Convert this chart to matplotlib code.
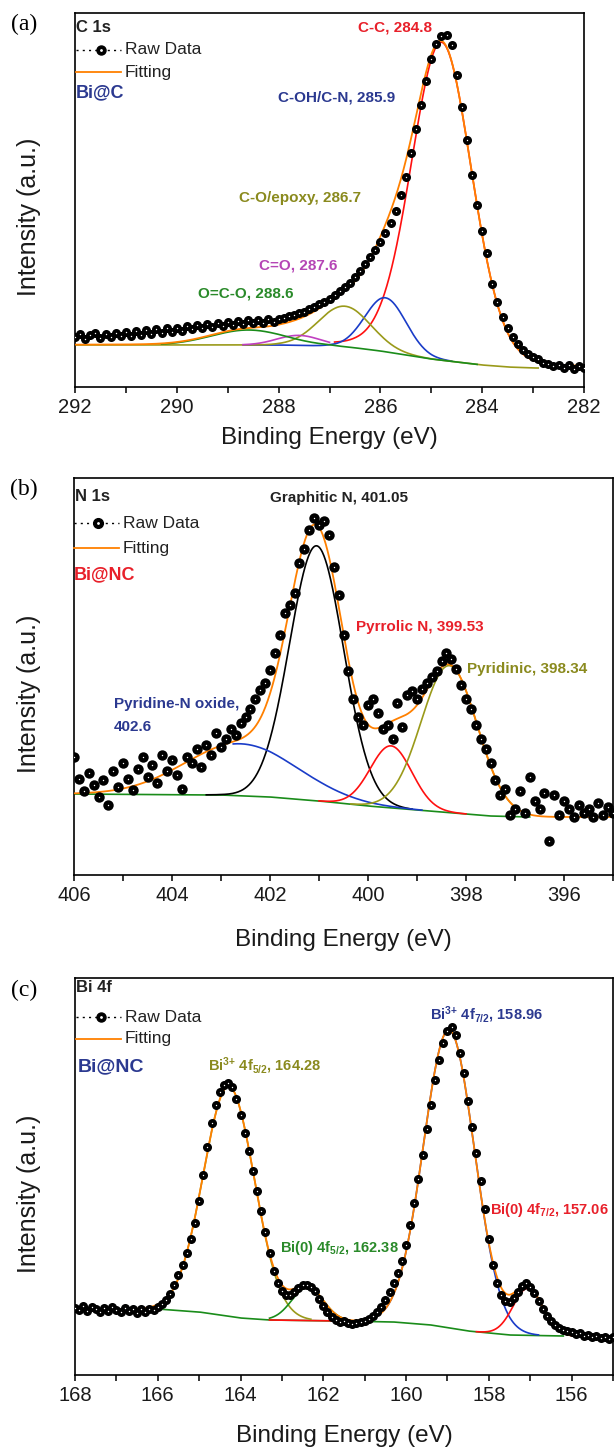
import numpy as np
import matplotlib
matplotlib.use('Agg')
import matplotlib.pyplot as plt
from matplotlib.lines import Line2D
from matplotlib.ticker import MultipleLocator

plt.rcParams['font.family'] = ['Liberation Sans', 'DejaVu Sans']
plt.rcParams['mathtext.fontset'] = 'custom'
plt.rcParams['mathtext.rm'] = 'Liberation Sans:bold'
plt.rcParams['mathtext.it'] = 'Liberation Sans:italic:bold'
plt.rcParams['mathtext.bf'] = 'Liberation Sans:bold'
plt.rcParams['mathtext.default'] = 'rm'

# ===================== DATA =====================
# ---- (a) C 1s, Bi@C ----
c1s_e_start, c1s_e_end = 292.0, 282.0
c1s_raw = [50, 53, 48, 52, 54, 49, 53, 50, 54, 51,
           55, 51, 56, 52, 57, 53, 58, 54, 59, 55,
           59, 56, 61, 58, 62, 59, 63, 60, 64, 61,
           65, 62, 66, 63, 67, 64, 67, 64, 68, 65,
           68, 69, 71, 72, 74, 75, 78, 80, 83, 85,
           88, 92, 96, 100, 104, 110, 116, 123, 130, 137,
           145, 154, 164, 176, 192, 210, 234, 258, 282, 306,
           328, 343, 351, 352, 342, 312, 280, 247, 212, 182,
           156, 134, 103, 85, 70, 59, 50, 43, 37, 33,
           30, 28, 24, 23, 21, 22, 19, 22, 18, 21,
           19]
c1s_bg_e = [292, 288, 287, 286.5, 286, 285.5, 285, 284.5, 284, 283.5, 283, 282]
c1s_bg = [42, 42, 41, 39, 36, 32, 28, 25, 22, 20, 19, 19]
c1s_labels = ['C-C, 284.8', 'C-OH/C-N, 285.9', 'C-O/epoxy, 286.7', 'C=O, 287.6', 'O=C-O, 288.6']
c1s_center = [284.8, 285.9, 286.7, 287.6, 288.6]
c1s_height = [318, 54, 41, 10, 15]
c1s_fwhm = [1.4, 0.95, 1.2, 1.0, 1.7]
c1s_eta = [0.12, 0.0, 0.0, 0.0, 0.0]
c1s_hi = [286.9, 288.7, 292.0, 288.7, 290.3]
c1s_lo = [283.0, 284.6, 282.9, 287.0, 284.1]

# ---- (b) N 1s, Bi@NC ----
n1s_e_start, n1s_e_end = 406.0, 395.0
n1s_raw = [118, 96, 84, 102, 90, 78, 95, 70, 104, 88,
           112, 96, 85, 106, 118, 98, 110, 92, 120, 104,
           115, 100, 86, 118, 112, 126, 108, 130, 120, 142,
           128, 136, 146, 140, 152, 158, 166, 176, 185, 192,
           205, 222, 240, 262, 270, 282, 312, 326, 345, 357,
           350, 354, 340, 308, 280, 240, 204, 176, 158, 150,
           170, 176, 162, 146, 150, 136, 172, 148, 180, 184,
           176, 186, 192, 198, 204, 214, 222, 216, 206, 190,
           176, 166, 150, 136, 126, 112, 95, 80, 86, 60,
           66, 84, 62, 98, 74, 66, 82, 34, 80, 60,
           74, 66, 58, 70, 62, 66, 58, 72, 60, 68,
           62]
n1s_bg_e = [406, 403, 402, 401, 400, 399, 398, 397.5, 396.7, 395]
n1s_bg = [81, 80, 78, 74, 69, 65, 61, 59, 58, 58]
n1s_labels = ['Graphitic N, 401.05', 'Pyridine-N oxide,\n402.6', 'Pyrrolic N, 399.53', 'Pyridinic, 398.34']
n1s_center = [401.05, 402.6, 399.53, 398.34]
n1s_height = [255, 52, 62, 147]
n1s_fwhm = [1.3, 2.7, 1.0, 1.35]
n1s_eta = [0.0, 0.0, 0.0, 0.0]
n1s_hi = [403.3, 402.75, 401.0, 400.35]
n1s_lo = [399.1, 398.9, 398.0, 397.0]

# ---- (c) Bi 4f, Bi@NC ----
bi_e_start, bi_e_end = 168.0, 155.0
bi_raw = [67, 65, 69, 64, 68, 66, 63, 67, 64, 68,
          65, 63, 67, 64, 66, 62, 66, 63, 66, 65,
          68, 71, 75, 81, 90, 100, 110, 122, 136, 152,
          174, 200, 228, 252, 270, 283, 290, 292, 288, 276,
          260, 242, 224, 204, 184, 164, 143, 122, 104, 92,
          84, 80, 80, 83, 87, 90, 90, 88, 84, 76,
          69, 63, 58, 55, 53, 54, 52, 51, 52, 53,
          54, 56, 59, 63, 68, 75, 83, 92, 102, 114,
          130, 150, 172, 196, 220, 246, 270, 295, 315, 332,
          344, 348, 340, 322, 302, 274, 248, 222, 194, 166,
          136, 110, 92, 80, 74, 73, 77, 83, 89, 92,
          88, 82, 74, 66, 59, 54, 50, 47, 45, 44,
          43, 41, 42, 39, 40, 38, 39, 37, 38, 36,
          38]
bi_bg_e = [168, 166, 165, 164, 163.3, 161.5, 160.3, 159.4, 158.5, 158.0, 157.5, 156.2, 155.0]
bi_bg = [66, 66, 63, 57, 55, 54, 53, 50, 44, 42, 40, 39, 38]
bi_labels = [r'Bi$^{3{+}}$ 4f$_{5/2}$, 164.28', r'Bi(0) 4f$_{5/2}$, 162.38',
             r'Bi$^{3{+}}$ 4f$_{7/2}$, 158.96', r'Bi(0) 4f$_{7/2}$, 157.06']
bi_center = [164.28, 162.38, 158.96, 157.06]
bi_height = [230, 33, 298, 47]
bi_fwhm = [1.45, 0.9, 1.45, 0.85]
bi_eta = [0.0, 0.0, 0.0, 0.0]
bi_hi = [166.0, 163.3, 160.5, 158.3]
bi_lo = [162.3, 161.5, 156.8, 156.0]

# ===================== STYLE =====================
W, H = 614, 1450
ORANGE = '#ff8000'
LRED, LBLUE, LOLIVE, LMAG, LGREEN = '#ff1010', '#1a3cc8', '#9a9a1a', '#c040c0', '#1a8c1a'
TRED, TBLUE, TOLIVE, TMAG, TGREEN, TBLACK = '#e8202a', '#2b3990', '#8a8a1e', '#b545b5', '#2a8a2a', '#222222'

fig = plt.figure(figsize=(W / 100, H / 100), dpi=100)


def add_axes_px(l, t, r, b):
    return fig.add_axes([l / W, 1 - b / H, (r - l) / W, (b - t) / H])


def ftext(x, y, s, **kw):
    kw.setdefault('ha', 'left')
    kw.setdefault('va', 'center')
    fig.text(x / W, 1 - y / H, s, **kw)


def pvoigt(x, c, h, w, eta):
    g = np.exp(-4 * np.log(2) * (x - c) ** 2 / w ** 2)
    lz = 1 / (1 + 4 * (x - c) ** 2 / w ** 2)
    return h * ((1 - eta) * g + eta * lz)


def bg_at(x, bge, bgy):
    order = np.argsort(bge)
    return np.interp(x, np.asarray(bge)[order], np.asarray(bgy)[order])


def legend_px(x0, x1, y1, y2, ms, tx):
    xm = (x0 + x1) / 2 + 2
    fig.add_artist(Line2D([x0 / W, x1 / W], [1 - y1 / H] * 2, transform=fig.transFigure,
                          color='k', lw=1.0, ls=(0, (1.5, 3.0))))
    fig.add_artist(Line2D([xm / W], [1 - y1 / H], transform=fig.transFigure, color='k',
                          marker='o', ms=ms, ls='none'))
    fig.add_artist(Line2D([xm / W], [1 - y1 / H], transform=fig.transFigure, color='white',
                          marker='o', ms=1.0, ls='none'))
    ftext(tx, y1, 'Raw Data', fontsize=12.5, color='#222222')
    fig.add_artist(Line2D([x0 / W, x1 / W], [1 - y2 / H] * 2, transform=fig.transFigure,
                          color=ORANGE, lw=1.3))
    ftext(tx, y2, 'Fitting', fontsize=12.5, color='#222222')


def panel(box, xlim, majors, e_start, e_end, raw, bge, bgy, centers, heights, fwhms, etas,
          his, los, colors, ms, xlabel_off, bg_ranges=()):
    l, t, r, b = box
    hpx = b - t
    ax = add_axes_px(l, t, r, b)
    ax.set_xlim(*xlim)
    ax.set_ylim(0, hpx)
    e = np.linspace(e_start, e_end, len(raw))
    raw = np.asarray(raw, float)
    for (hi, lo, col) in bg_ranges:
        xx = np.linspace(hi, lo, 200)
        ax.plot(xx, bg_at(xx, bge, bgy), color=col, lw=1.2, zorder=2)
    for c, hh, w, et, hi, lo, col in zip(centers, heights, fwhms, etas, his, los, colors):
        xx = np.linspace(hi, lo, 400)
        ax.plot(xx, bg_at(xx, bge, bgy) + pvoigt(xx, c, hh, w, et), color=col, lw=1.2, zorder=2)
    xx = np.linspace(e_start, e_end, 1200)
    fit = bg_at(xx, bge, bgy) + sum(pvoigt(xx, c, hh, w, et)
                                     for c, hh, w, et in zip(centers, heights, fwhms, etas))
    ax.plot(xx, fit, color=ORANGE, lw=1.3, zorder=3)
    ax.plot(e, raw, 'o', color='k', ms=ms, mew=0, zorder=4)
    ax.plot(e, raw, 'o', color='white', ms=1.0, mew=0, zorder=5)

    ax.set_xticks(majors)
    ax.xaxis.set_minor_locator(MultipleLocator(1))
    ax.set_yticks([])
    ax.tick_params(axis='x', which='both', direction='out', length=4, width=1.1,
                   pad=4, labelsize=14.5, labelcolor='#1a1a1a')
    for s in ax.spines.values():
        s.set_linewidth(1.2)
    ax.set_xlabel('Binding Energy (eV)', fontsize=17.5, color='#1a1a1a', va='center')
    ax.xaxis.set_label_coords(0.5, -xlabel_off / hpx)
    ax.set_ylabel('Intensity (a.u.)', fontsize=18, color='#1a1a1a', va='center')
    ax.yaxis.set_label_coords((29 - l) / (r - l), 0.5 - 17 / hpx)
    return ax


# ---- (a) ----
panel((75, 13, 584, 387), (292, 282), [292, 290, 288, 286, 284, 282],
      c1s_e_start, c1s_e_end, c1s_raw, c1s_bg_e, c1s_bg,
      c1s_center, c1s_height, c1s_fwhm, c1s_eta, c1s_hi, c1s_lo,
      [LRED, LBLUE, LOLIVE, LMAG, LGREEN], 6.5, 51)
ftext(24, 24, '(a)', fontsize=17, family='Liberation Serif', ha='center')
ftext(76, 27, 'C 1s', fontsize=12, fontweight='bold', color='#222222')
legend_px(76, 121, 50, 72, 6.5, 125)
ftext(76, 93, 'Bi@C', fontsize=13, fontweight='bold', color=TBLUE)
ftext(358, 28, c1s_labels[0], fontsize=11, fontweight='bold', color=TRED)
ftext(278, 98, c1s_labels[1], fontsize=11, fontweight='bold', color=TBLUE)
ftext(239, 198, c1s_labels[2], fontsize=11, fontweight='bold', color=TOLIVE)
ftext(259, 266, c1s_labels[3], fontsize=11, fontweight='bold', color=TMAG)
ftext(198, 294, c1s_labels[4], fontsize=11, fontweight='bold', color=TGREEN)

# ---- (b) ----
panel((74, 478, 613, 875), (406, 395), [406, 404, 402, 400, 398, 396],
      n1s_e_start, n1s_e_end, n1s_raw, n1s_bg_e, n1s_bg,
      n1s_center, n1s_height, n1s_fwhm, n1s_eta, n1s_hi, n1s_lo,
      ['#000000', LBLUE, LRED, LOLIVE], 7.5, 65,
      bg_ranges=[(406.0, 396.7, LGREEN)])
ftext(24, 489, '(b)', fontsize=17, family='Liberation Serif', ha='center')
ftext(75, 497, 'N 1s', fontsize=12, fontweight='bold', color='#222222')
legend_px(74, 119, 523, 548, 7.0, 123)
ftext(74, 575, 'Bi@NC', fontsize=13, fontweight='bold', color=TRED)
ftext(270, 498, n1s_labels[0], fontsize=11, fontweight='bold', color=TBLACK)
ftext(114, 704, 'Pyridine-N oxide,', fontsize=11, fontweight='bold', color=TBLUE)
ftext(114, 727, '402.6', fontsize=11, fontweight='bold', color=TBLUE)
ftext(356, 627, n1s_labels[2], fontsize=11, fontweight='bold', color=TRED)
ftext(467, 669, n1s_labels[3], fontsize=11, fontweight='bold', color=TOLIVE)

# ---- (c) ----
panel((75, 978, 613, 1375), (168, 155), [168, 166, 164, 162, 160, 158, 156],
      bi_e_start, bi_e_end, bi_raw, bi_bg_e, bi_bg,
      bi_center, bi_height, bi_fwhm, bi_eta, bi_hi, bi_lo,
      [LOLIVE, LGREEN, LBLUE, LRED], 6.5, 61,
      bg_ranges=[(166.0, 156.2, LGREEN), (163.3, 161.8, LRED)])
ftext(24, 990, '(c)', fontsize=17, family='Liberation Serif', ha='center')
ftext(76, 988, 'Bi 4f', fontsize=12, fontweight='bold', color='#222222')
legend_px(76, 121, 1017, 1039, 6.5, 125)
ftext(78, 1067, 'Bi@NC', fontsize=14, fontweight='bold', color=TBLUE)
bi_lab_kw = dict(fontsize=10.5, fontweight='bold')
ftext(208, 1066, bi_labels[0], color=TOLIVE, **bi_lab_kw)
ftext(280, 1248, bi_labels[1], color=TGREEN, **bi_lab_kw)
ftext(430, 1015, bi_labels[2], color=TBLUE, **bi_lab_kw)
ftext(490, 1210, bi_labels[3], color=TRED, **bi_lab_kw)

fig.savefig('out.png', dpi=100)
